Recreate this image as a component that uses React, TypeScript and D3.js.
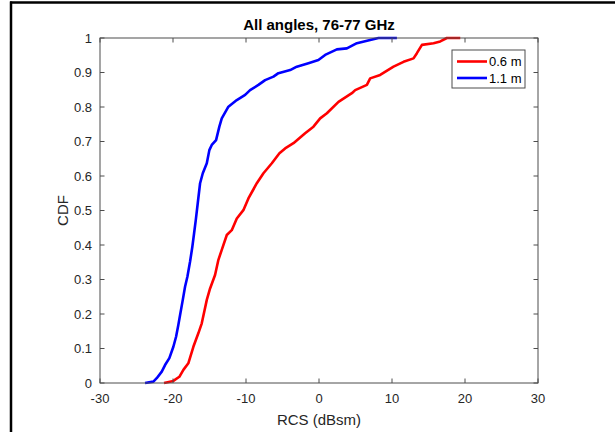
import React from "react";
import * as d3 from "d3";

const xTicks = [-30, -20, -10, 0, 10, 20, 30];
const yTicks = [0, 0.1, 0.2, 0.3, 0.4, 0.5, 0.6, 0.7, 0.8, 0.9, 1];

const seriesNames = ["0.6 m", "1.1 m"];
const seriesColors = ["#ff0000", "#0000ff"];

const redX = [-21.23, -19.95, -19.13, -18.58, -17.9, -17.21, -16.53, -16.06, -15.37, -14.92, -14.24, -13.78, -13.32, -12.63, -11.95, -11.26, -10.36, -9.67, -8.52, -7.61, -6.46, -5.42, -4.64, -3.5, -1.9, -0.76, 0.16, 1.08, 2.67, 4.5, 4.96, 6.56, 7.01, 8.38, 10.21, 11.58, 12.95, 13.41, 14.1, 15.69, 16.61, 17.52, 19.35];
const redY = [0, 0.006, 0.018, 0.038, 0.057, 0.105, 0.144, 0.173, 0.241, 0.274, 0.313, 0.357, 0.386, 0.429, 0.443, 0.477, 0.501, 0.535, 0.579, 0.608, 0.637, 0.666, 0.68, 0.695, 0.724, 0.743, 0.767, 0.782, 0.815, 0.84, 0.849, 0.864, 0.883, 0.893, 0.917, 0.931, 0.941, 0.956, 0.98, 0.985, 0.99, 1, 1];

const blueX = [-23.83, -22.69, -22.23, -21.54, -21.09, -20.5, -19.95, -19.58, -19.27, -19.03, -18.66, -18.35, -18.03, -17.66, -17.35, -17.11, -16.88, -16.61, -16.29, -15.92, -15.37, -15.02, -14.69, -14.1, -13.65, -13.32, -12.41, -11.26, -10.12, -9.44, -8.3, -7.38, -6.24, -5.56, -3.95, -3.04, -1.45, -0.08, 0.84, 2.45, 3.82, 5.19, 7.01, 8.15, 10.67];
const blueY = [0, 0.004, 0.014, 0.033, 0.052, 0.072, 0.105, 0.134, 0.168, 0.197, 0.241, 0.279, 0.308, 0.352, 0.395, 0.434, 0.472, 0.521, 0.579, 0.608, 0.637, 0.675, 0.69, 0.704, 0.743, 0.767, 0.801, 0.82, 0.835, 0.849, 0.864, 0.878, 0.888, 0.898, 0.907, 0.917, 0.927, 0.936, 0.951, 0.967, 0.97, 0.985, 0.994, 1, 1];

const FONT = "Arial, 'Liberation Sans', Helvetica, sans-serif";

export default function App() {
  const W = 615, H = 432;
  const left = 100, right = 538, top = 38, bottom = 383;
  const x = d3.scaleLinear().domain([-30, 30]).range([left, right]);
  const y = d3.scaleLinear().domain([0, 1]).range([bottom, top]);
  const line = d3.line<[number, number]>().x(d => x(d[0])).y(d => y(d[1]));
  const red: [number, number][] = redX.map((v, i) => [v, redY[i]]);
  const blue: [number, number][] = blueX.map((v, i) => [v, blueY[i]]);
  const series = [red, blue];
  const axisColor = "#4d4d4d";
  const textColor = "#262626";
  const tl = 4.5;

  return (
    <svg width={W} height={H} style={{ position: "absolute", left: 0, top: 0, background: "#fff" }} fontFamily={FONT}>
      <rect x={0} y={0} width={W} height={H} fill="#fff" />
      {/* outer border */}
      <line x1={10} x2={W} y1={2.5} y2={2.5} stroke="#000" strokeWidth={2.5} />
      <line x1={11} x2={11} y1={1.5} y2={H} stroke="#000" strokeWidth={2.5} />

      {/* curves */}
      {series.map((s, i) => (
        <path key={i} d={line(s) || ""} fill="none" stroke={seriesColors[i]} strokeWidth={2.6} strokeLinejoin="round" strokeLinecap="butt" />
      ))}

      {/* axes box */}
      <rect x={left} y={top} width={right - left} height={bottom - top} fill="none" stroke={axisColor} strokeWidth={1} />
      {xTicks.map(t => (
        <g key={"x" + t}>
          <line x1={x(t)} x2={x(t)} y1={bottom} y2={bottom - tl} stroke={axisColor} />
          <line x1={x(t)} x2={x(t)} y1={top} y2={top + tl} stroke={axisColor} />
          <text x={x(t)} y={403} textAnchor="middle" fontSize={13} fill={textColor}>{t}</text>
        </g>
      ))}
      {yTicks.map(t => (
        <g key={"y" + t}>
          <line x1={left} x2={left + tl} y1={y(t)} y2={y(t)} stroke={axisColor} />
          <line x1={right} x2={right - tl} y1={y(t)} y2={y(t)} stroke={axisColor} />
          <text x={92} y={y(t) + 4.5} textAnchor="end" fontSize={13} fill={textColor}>{t}</text>
        </g>
      ))}

      {/* labels */}
      <text x={(left + right) / 2} y={30} textAnchor="middle" fontSize={15} fontWeight="bold" fill="#000">All angles, 76-77 GHz</text>
      <text x={(left + right) / 2} y={425} textAnchor="middle" fontSize={15} fill={textColor}>RCS (dBsm)</text>
      <text transform={`translate(68,${(top + bottom) / 2}) rotate(-90)`} textAnchor="middle" fontSize={15} fill={textColor}>CDF</text>

      {/* legend */}
      <rect x={452} y={50} width={73} height={38} fill="#fff" stroke={axisColor} strokeWidth={1} />
      {seriesNames.map((n, i) => (
        <g key={n}>
          <line x1={457} x2={487} y1={61.5 + i * 16.5} y2={61.5 + i * 16.5} stroke={seriesColors[i]} strokeWidth={2.6} />
          <text x={489} y={66 + i * 16.5} fontSize={13} fill="#000">{n}</text>
        </g>
      ))}
    </svg>
  );
}
